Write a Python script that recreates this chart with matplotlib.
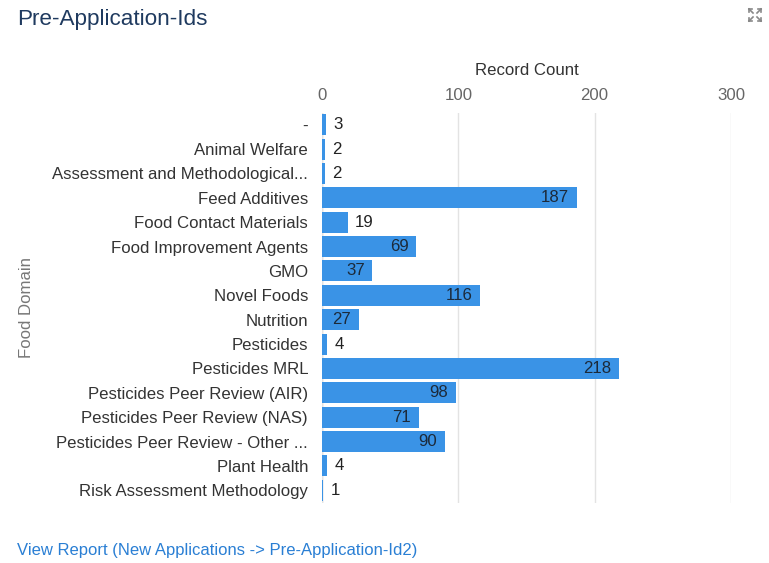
import matplotlib
matplotlib.use("Agg")
import matplotlib.pyplot as plt
from matplotlib.lines import Line2D

plt.rcParams['font.family'] = ['Liberation Sans', 'DejaVu Sans']

categories = ["-", "Animal Welfare", "Assessment and Methodological...", "Feed Additives",
              "Food Contact Materials", "Food Improvement Agents", "GMO", "Novel Foods",
              "Nutrition", "Pesticides", "Pesticides MRL", "Pesticides Peer Review (AIR)",
              "Pesticides Peer Review (NAS)", "Pesticides Peer Review - Other ...",
              "Plant Health", "Risk Assessment Methodology"]
values = [3, 2, 2, 187, 19, 69, 37, 116, 27, 4, 218, 98, 71, 90, 4, 1]
x_ticks = [0, 100, 200, 300]

W, H = 769, 563
FS = 12.1
fig = plt.figure(figsize=(W/100, H/100), dpi=100)
ax = fig.add_axes([322/W, 1-502.5/H, (731-322)/W, (502.5-112.5)/H])

ypos = list(range(len(categories)))
ax.barh(ypos, values, height=0.86, color='#3a93e6', zorder=3)
ax.set_ylim(len(categories)-0.5, -0.5)
ax.set_xlim(0, 300)
ax.set_yticks(ypos)
ax.set_yticklabels(categories, fontsize=FS, color='#333333')
ax.xaxis.tick_top()
ax.xaxis.set_label_position('top')
ax.set_xticks(x_ticks)
ax.set_xticklabels([str(t) for t in x_ticks], fontsize=FS, color='#666666')
ax.tick_params(axis='both', length=0)
ax.tick_params(axis='y', pad=10)
ax.tick_params(axis='x', pad=7)
ax.set_xlabel("Record Count", fontsize=FS, color='#333333', labelpad=9)
for s in ax.spines.values():
    s.set_visible(False)
ax.grid(axis='x', color='#e3e3e3', linewidth=1, zorder=0)
ax.grid(axis='y', visible=False)
ax.axvline(0, color='#cfcfcf', linewidth=1, zorder=1)

for y, v in zip(ypos, values):
    if v >= 25:
        ax.annotate(str(v), (v, y), xytext=(-5.5, 0), textcoords='offset points',
                    ha='right', va='center', fontsize=FS, color='#1c2a3a', zorder=4)
    else:
        ax.annotate(str(v), (v, y), xytext=(5, 0), textcoords='offset points',
                    ha='left', va='center', fontsize=FS, color='#222222', zorder=4)

fig.text(27/W, 1-308/H, "Food Domain", rotation=90, ha='center', va='center',
         fontsize=FS, color='#777777')
fig.text(17/W, 1-19/H, "Pre-Application-Ids", ha='left', va='center',
         fontsize=16.2, color='#1f3a5f')
fig.text(17/W, 1-550/H, "View Report (New Applications -> Pre-Application-Id2)",
         ha='left', va='center', fontsize=12.0, color='#2a7fd4')

# expand icon
cx, cy = 755, 15
c = '#888888'
for dx, dy in [(-1, -1), (1, -1), (-1, 1), (1, 1)]:
    x0, y0 = cx + dx*2, cy + dy*2
    x1, y1 = cx + dx*6, cy + dy*6
    fig.add_artist(Line2D([x0/W, x1/W], [1-y0/H, 1-y1/H], color=c, lw=1.2))
    fig.add_artist(Line2D([x1/W, (x1 - dx*3)/W], [1-y1/H, 1-y1/H], color=c, lw=1.2))
    fig.add_artist(Line2D([x1/W, x1/W], [1-y1/H, 1-(y1 - dy*3)/H], color=c, lw=1.2))

fig.savefig("out.png", dpi=100, facecolor='white')
